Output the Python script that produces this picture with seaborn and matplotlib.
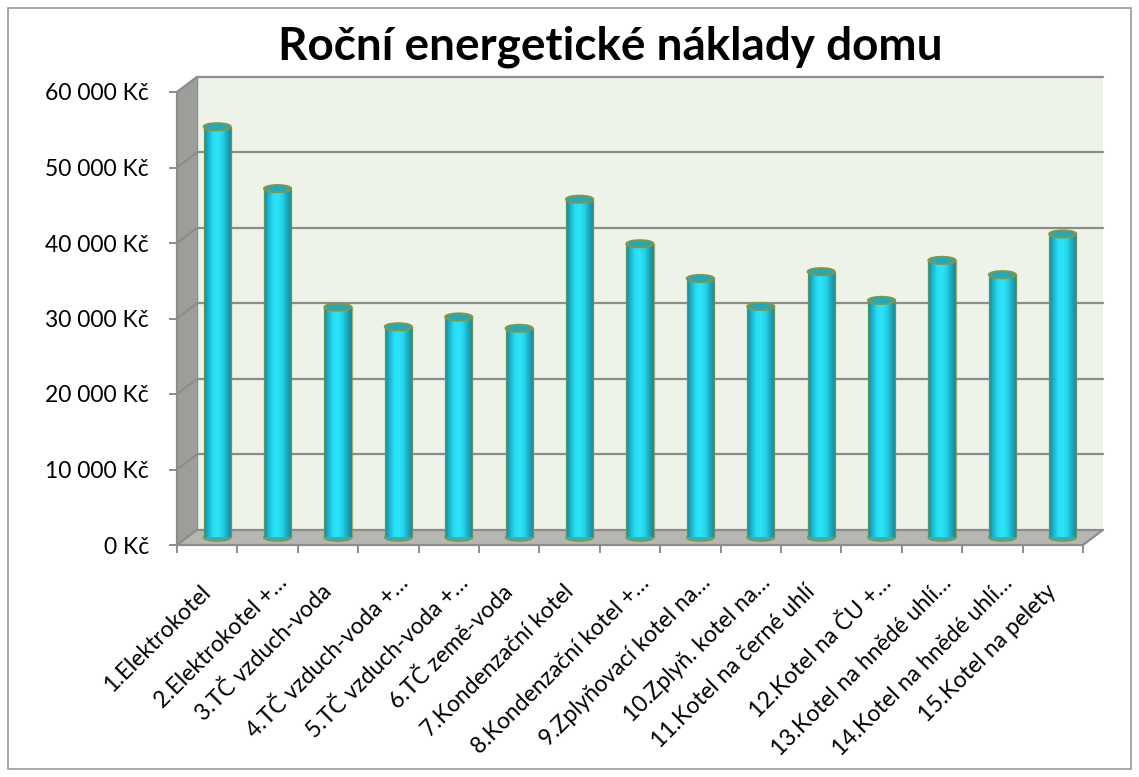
import numpy as np
import pandas as pd
import matplotlib
matplotlib.use("Agg")
import matplotlib.pyplot as plt
import seaborn as sns
from matplotlib.colors import LinearSegmentedColormap
from matplotlib.patches import Polygon, Ellipse, Rectangle
from matplotlib.transforms import ScaledTranslation

# --- data ---
categories = [
    "1.Elektrokotel", "2.Elektrokotel +…", "3.TČ vzduch-voda", "4.TČ vzduch-voda +…",
    "5.TČ vzduch-voda +…", "6.TČ země-voda", "7.Kondenzační kotel", "8.Kondenzační kotel +…",
    "9.Zplyňovací kotel na…", "10.Zplyň. kotel na…", "11.Kotel na černé uhlí", "12.Kotel na ČU +…",
    "13.Kotel na hnědé uhlí…", "14.Kotel na hnědé uhlí…", "15.Kotel na pelety",
]
costs = [54400, 46200, 30500, 27900, 29200, 27700, 44800, 38900,
         34300, 30600, 35200, 31400, 36700, 34800, 40200]
y_ticks = [0, 10000, 20000, 30000, 40000, 50000, 60000]
y_ticklabels = ["0 Kč", "10 000 Kč", "20 000 Kč", "30 000 Kč", "40 000 Kč", "50 000 Kč", "60 000 Kč"]
title = "Roční energetické náklady domu"

df = pd.DataFrame({"kategorie": categories, "naklady": costs})

sns.set_theme(style="white")
plt.rcParams["font.family"] = ["Lato", "DejaVu Sans"]

W, H = 1139, 777
fig = plt.figure(figsize=(W / 100, H / 100), dpi=100)
# front plane of the 3d box
ax = fig.add_axes([177 / W, (H - 545) / H, 906 / W, (545 - 92) / H])
n = len(categories)
ymax = 60000
dx, dy = 0.33, 2000  # depth offset (data units)
grid_c = "#8c8c8c"

ax.set_xlim(-0.5, n - 0.5)
ax.set_ylim(0, ymax)

# walls and floor
back = Rectangle((-0.5 + dx, dy), n, ymax, facecolor="#eef3e9", edgecolor="none", zorder=0, clip_on=False)
ax.add_patch(back)
side = Polygon([(-0.5, 0), (-0.5 + dx, dy), (-0.5 + dx, ymax + dy), (-0.5, ymax)],
               closed=True, facecolor="#9d9e9a", edgecolor="none", zorder=0.5, clip_on=False)
ax.add_patch(side)
floor = Polygon([(-0.5, 0), (n - 0.5, 0), (n - 0.5 + dx, dy), (-0.5 + dx, dy)],
                closed=True, facecolor="#b6b7b2", edgecolor="none", zorder=0.5, clip_on=False)
ax.add_patch(floor)
for v in y_ticks:
    ax.plot([-0.5 + dx, n - 0.5 + dx], [v + dy, v + dy], color=grid_c, lw=1.6, zorder=1, clip_on=False)
    ax.plot([-0.5, -0.5 + dx], [v, v + dy], color=grid_c, lw=1.6, zorder=1, clip_on=False)
ax.plot([-0.5 + dx, -0.5 + dx], [dy, ymax + dy], color=grid_c, lw=1.0, zorder=1, clip_on=False)
# front axis lines
ax.plot([-0.5, -0.5], [0, ymax], color=grid_c, lw=1.6, zorder=2, clip_on=False)
ax.plot([-0.5, n - 0.5, n - 0.5 + dx], [0, 0, dy], color=grid_c, lw=1.6, zorder=2, clip_on=False)

# bars (cylinders)
bw = 0.45
sns.barplot(data=df, x="kategorie", y="naklady", width=bw, color="#2ae0f5", ax=ax, zorder=3)
cyl = LinearSegmentedColormap.from_list(
    "cyl", ["#12889a", "#1cb9d1", "#29def5", "#2be4f8", "#25d2e8", "#1aa9bf", "#14899b"])
grad = np.linspace(0, 1, 64).reshape(1, -1)
ell_h = 950
edge_c = "#87953f"
for p, v in zip(ax.patches[-n:], costs):
    p.set_x(p.get_x() + dx / 2)
    p.set_y(dy / 2)
    p.set_height(v)
    p.set_edgecolor("none")
    x0 = p.get_x()
    cx = x0 + bw / 2
    im = ax.imshow(grad, extent=[x0, x0 + bw, dy / 2, v + dy / 2], aspect="auto",
                   cmap=cyl, zorder=3.2, interpolation="bilinear")
    im.set_clip_path(p)
    ax.add_patch(Ellipse((cx, dy / 2), bw, ell_h, facecolor="#1fb6cc", edgecolor=edge_c, lw=1.2, zorder=2.9))
    ax.plot([x0, x0], [dy / 2, v + dy / 2], color=edge_c, lw=1.0, zorder=3.4, alpha=0.7)
    ax.plot([x0 + bw, x0 + bw], [dy / 2, v + dy / 2], color=edge_c, lw=1.0, zorder=3.4, alpha=0.7)
    ax.add_patch(Ellipse((cx, v + dy / 2), bw, ell_h, facecolor="#20a9bf", edgecolor=edge_c, lw=1.4, zorder=3.5))

ax.set_xlim(-0.5, n - 0.5)
ax.set_ylim(0, ymax)
for s in ax.spines.values():
    s.set_visible(False)

# ticks
ax.set_yticks(y_ticks)
ax.set_yticklabels(y_ticklabels)
ax.tick_params(axis="y", length=6, width=1.4, color=grid_c, pad=14, labelsize=16.5, labelcolor="black", left=True)
ax.set_xticks(np.arange(-0.5, n, 1.0))
ax.set_xticklabels([])
ax.tick_params(axis="x", length=6, width=1.4, color=grid_c, bottom=True)
ax.set_xlabel("")
ax.set_ylabel("")

# rotated category labels; truncated ones sit a bit further along the text direction
for i, lab in enumerate(categories):
    if lab.endswith("…"):
        off = ScaledTranslation(9 / 100, -27 / 100, fig.dpi_scale_trans)
    else:
        off = ScaledTranslation(-7 / 100, -36 / 100, fig.dpi_scale_trans)
    ax.text(i, 0, lab, rotation=45, ha="right", va="top", rotation_mode="anchor",
            fontsize=16.5, color="black", clip_on=False, transform=ax.transData + off)

fig.text(610 / W, 1 - 47 / H, title, ha="center", va="center", fontsize=33, fontweight="bold", color="black")

# outer chart border
fig.add_artist(Rectangle((8 / W, 8 / H), (W - 16) / W, (H - 16) / H, transform=fig.transFigure,
                         fill=False, edgecolor="#9a9a9a", lw=1.2))

fig.savefig("out.png", dpi=100)
